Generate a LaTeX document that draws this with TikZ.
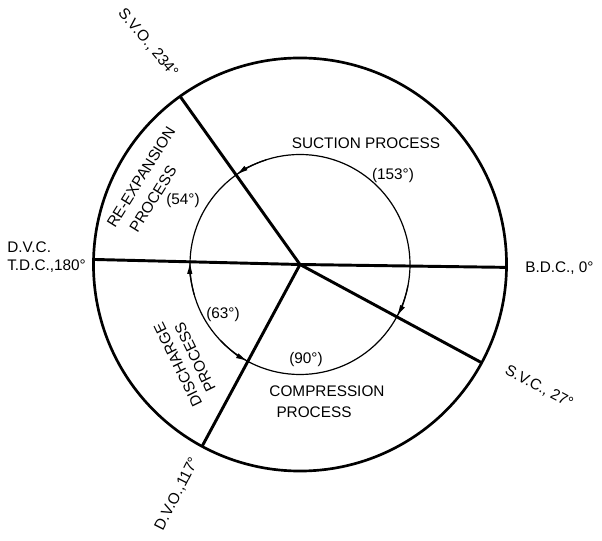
\documentclass[tikz,border=0pt]{standalone}
\usepackage{fontspec}
\setmainfont{Liberation Sans}
\usetikzlibrary{arrows.meta}
\begin{document}
\begin{tikzpicture}[x=0.75pt,y=0.75pt,
  outerc/.style={line width=2pt},
  radial/.style={line width=2.2pt},
  innerc/.style={line width=0.9pt},
  arr/.style={line width=0.9pt,-{Latex[length=9pt,width=4pt]}},
  lbl/.style={font=\fontsize{11.5}{13}\selectfont, inner sep=0pt},
]
\useasboundingbox (-300,-276.5) rectangle (302,264.5);
\coordinate (O) at (0,0);
\draw[outerc] (O) circle[radius=154.9pt];
\draw[innerc] (O) circle[radius=82.5pt];
\coordinate (bdc) at (-0.8:206.5);
\coordinate (tdc) at (178.6:206.5);
\coordinate (svc) at (-28.4:206.5);
\coordinate (dvo) at (-118.3:206.5);
\coordinate (svo) at (125.5:206.5);
\draw[radial] (tdc) -- (O) -- (bdc);
\draw[radial] (O) -- (svc);
\draw[radial] (O) -- (dvo);
\draw[radial] (O) -- (svo);
% arrows on inner circle
\draw[arr] (108:110) arc[start angle=108,end angle=125.5,radius=82.5pt];
\draw[arr] (-11:110) arc[start angle=-11,end angle=-28.4,radius=82.5pt];
\draw[arr] (196:110) arc[start angle=196,end angle=178.6,radius=82.5pt];
\draw[arr] (224:110) arc[start angle=224,end angle=241.7,radius=82.5pt];
% labels
\node[lbl] (suc) at (66,121.5) {SUCTION PROCESS};
\node[lbl] (a153) at (93,88.5) {(153°)};
\node[lbl] (a54) at (-117,63.5) {(54°)};
\node[lbl] (a63) at (-77,-50.5) {(63°)};
\node[lbl] (a90) at (6,-95.5) {(90°)};
\node[lbl] (comp1) at (27,-126.5) {COMPRESSION};
\node[lbl] (comp2) at (14,-147.5) {PROCESS};
\node[lbl,anchor=west] (lbdc) at (225,-3.5) {B.D.C., 0°};
\node[lbl,anchor=west] (ldvc) at (-293,17) {D.V.C.};
\node[lbl,anchor=west] (ltdc) at (-293,-2) {T.D.C.,180°};
\node[lbl,rotate=-50] (lsvo) at (-152,221.5) {S.V.O., 234°};
\node[lbl,rotate=-28] (lsvc) at (239,-122.5) {S.V.C., 27°};
\node[lbl,rotate=63] (ldvo) at (-123,-229.5) {D.V.O.,117°};
\node[lbl,rotate=58] (rex1) at (-159,87.5) {RE-EXPANSION};
\node[lbl,rotate=58] (rex2) at (-147,65.5) {PROCESS};
\node[lbl,rotate=116] (dis1) at (-122,-100.5) {DISCHARGE};
\node[lbl,rotate=116] (dis2) at (-105,-92.5) {PROCESS};
\end{tikzpicture}
\end{document}
